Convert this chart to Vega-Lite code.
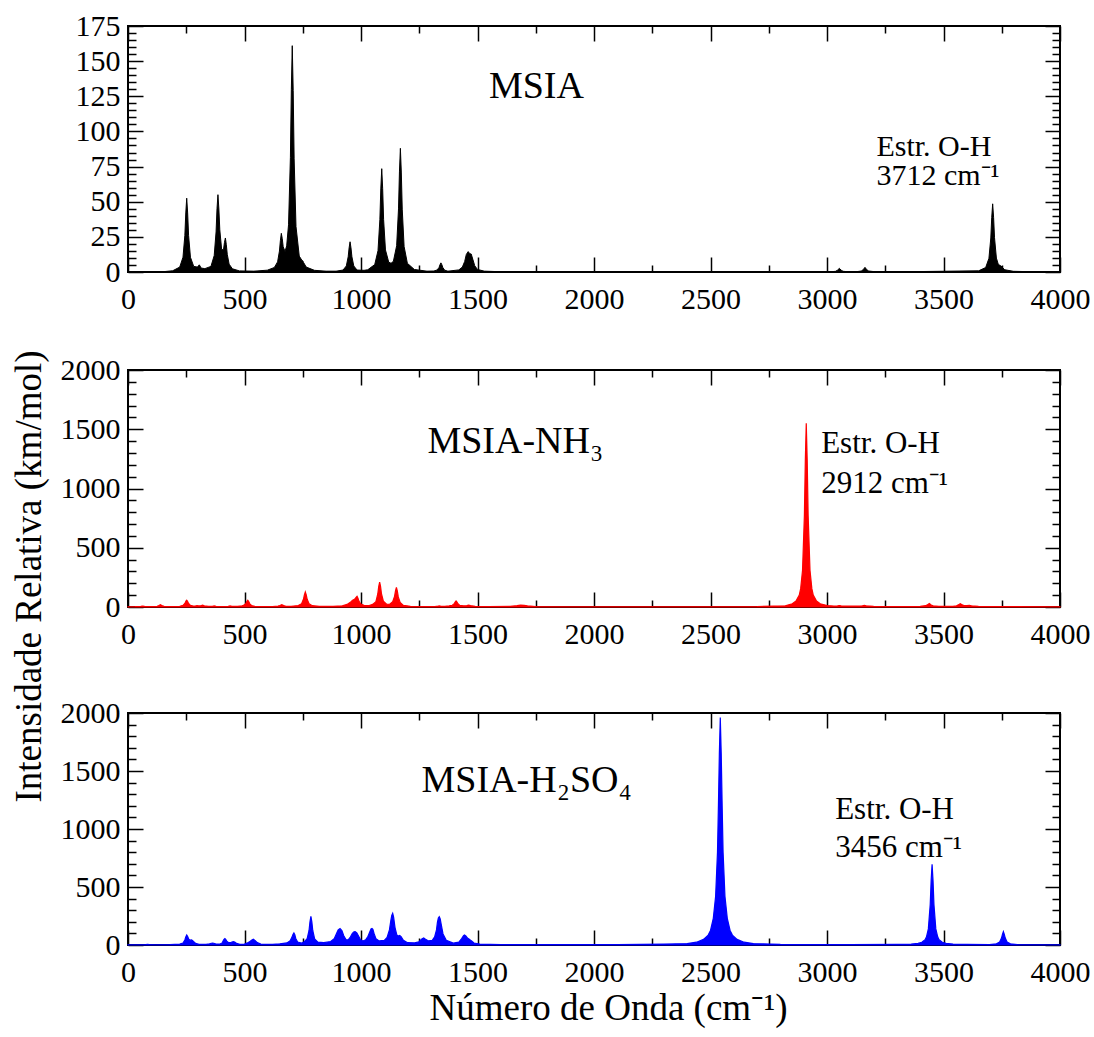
{
  "$schema": "https://vega.github.io/schema/vega-lite/v6.json",
  "background": "white",
  "padding": {"left": 9, "top": 10, "right": 5, "bottom": 5},
  "bounds": "flush",
  "spacing": 98,
  "config": {
    "font": "Liberation Serif",
    "view": {"stroke": "black", "strokeWidth": 2},
    "text": {"font": "Liberation Serif", "color": "black"}
  },
  "datasets": {
    "msia": [
      {"x":0,"y":0},{"x":150,"y":0.2},{"x":192,"y":0.9},{"x":222,"y":3.5},{"x":236,"y":10.5},{"x":244,"y":26},{"x":248,"y":42},{"x":252,"y":52.5},{"x":256,"y":42},{"x":260,"y":26},{"x":268,"y":10.5},{"x":282,"y":4},{"x":298,"y":3.5},{"x":306,"y":5.1},{"x":314,"y":2.8},{"x":330,"y":2.4},{"x":356,"y":4},{"x":370,"y":11.7},{"x":378,"y":28.5},{"x":382,"y":45},{"x":386,"y":55},{"x":390,"y":44.8},{"x":394,"y":30},{"x":402,"y":15.8},{"x":410,"y":16},{"x":414,"y":21},{"x":418,"y":24.2},{"x":422,"y":19.4},{"x":426,"y":12.6},{"x":434,"y":5.6},{"x":448,"y":2.3},{"x":478,"y":0.8},{"x":540,"y":0.6},{"x":598,"y":1.3},{"x":628,"y":3.2},{"x":642,"y":7.2},{"x":650,"y":14.9},{"x":654,"y":22.3},{"x":658,"y":27.5},{"x":662,"y":23.8},{"x":666,"y":18},{"x":674,"y":14.6},{"x":681,"y":18.6},{"x":689,"y":33.6},{"x":697,"y":81.5},{"x":701,"y":129.7},{"x":705,"y":161},{"x":709,"y":129},{"x":713,"y":80.5},{"x":721,"y":32.4},{"x":735,"y":11.3},{"x":746,"y":8.4},{"x":750,"y":8},{"x":754,"y":6.6},{"x":765,"y":3.5},{"x":800,"y":1.2},{"x":850,"y":0.6},{"x":893,"y":0.6},{"x":923,"y":1.4},{"x":937,"y":4.3},{"x":945,"y":10.8},{"x":949,"y":17.2},{"x":953,"y":21.5},{"x":957,"y":17.2},{"x":961,"y":10.8},{"x":969,"y":4.3},{"x":983,"y":1.4},{"x":1013,"y":1.2},{"x":1029,"y":1.6},{"x":1059,"y":5.3},{"x":1073,"y":15.2},{"x":1081,"y":37.2},{"x":1085,"y":59.1},{"x":1089,"y":73.5},{"x":1093,"y":59.3},{"x":1097,"y":37.4},{"x":1105,"y":15.7},{"x":1119,"y":7},{"x":1129,"y":6.2},{"x":1139,"y":7.6},{"x":1153,"y":18.7},{"x":1161,"y":44.9},{"x":1165,"y":71.2},{"x":1169,"y":88},{"x":1173,"y":71.1},{"x":1177,"y":44.7},{"x":1185,"y":18.1},{"x":1199,"y":6.2},{"x":1229,"y":1.8},{"x":1283,"y":0.6},{"x":1313,"y":0.7},{"x":1327,"y":1.5},{"x":1335,"y":3.25},{"x":1339,"y":5.2},{"x":1343,"y":6.5},{"x":1347,"y":5.2},{"x":1351,"y":3.25},{"x":1359,"y":1.3},{"x":1373,"y":0.6},{"x":1420,"y":1.5},{"x":1435,"y":3.5},{"x":1445,"y":7.5},{"x":1452,"y":12.5},{"x":1460,"y":14.5},{"x":1467,"y":13},{"x":1473,"y":12.8},{"x":1480,"y":9},{"x":1488,"y":4.5},{"x":1500,"y":1.8},{"x":1530,"y":0.6},{"x":1600,"y":0.2},{"x":1800,"y":0},{"x":2950,"y":0},{"x":3020,"y":0.2},{"x":3037,"y":0.5},{"x":3045,"y":1.3},{"x":3053,"y":2.6},{"x":3061,"y":1.3},{"x":3069,"y":0.5},{"x":3090,"y":0.2},{"x":3130,"y":0.3},{"x":3147,"y":0.7},{"x":3155,"y":1.6},{"x":3163,"y":3.3},{"x":3171,"y":1.6},{"x":3179,"y":0.7},{"x":3200,"y":0.3},{"x":3300,"y":0.1},{"x":3651,"y":0.85},{"x":3681,"y":3.2},{"x":3695,"y":9.7},{"x":3703,"y":24.2},{"x":3707,"y":38.8},{"x":3711,"y":48.5},{"x":3715,"y":38.8},{"x":3719,"y":24.4},{"x":3727,"y":9.9},{"x":3735,"y":5.5},{"x":3743,"y":4.6},{"x":3747,"y":4.3},{"x":3751,"y":3.5},{"x":3763,"y":1.6},{"x":3800,"y":0.5},{"x":3900,"y":0.1},{"x":4000,"y":0}
    ],
    "nh3": [
      {"x":0,"y":2},{"x":30,"y":3},{"x":55,"y":5},{"x":63,"y":8},{"x":71,"y":5},{"x":90,"y":3},{"x":125,"y":6},{"x":133,"y":12},{"x":139,"y":20},{"x":145,"y":12},{"x":155,"y":6},{"x":190,"y":4},{"x":222,"y":6},{"x":236,"y":14},{"x":244,"y":30},{"x":248,"y":45},{"x":252,"y":56},{"x":256,"y":45},{"x":260,"y":30},{"x":268,"y":14},{"x":280,"y":8},{"x":288,"y":8},{"x":296,"y":11},{"x":304,"y":9},{"x":312,"y":10},{"x":320,"y":15},{"x":328,"y":9},{"x":345,"y":5},{"x":362,"y":6},{"x":370,"y":9},{"x":378,"y":6},{"x":400,"y":4},{"x":430,"y":6},{"x":438,"y":9},{"x":446,"y":6},{"x":470,"y":6},{"x":490,"y":10},{"x":498,"y":16},{"x":506,"y":30},{"x":510,"y":46},{"x":514,"y":56},{"x":518,"y":45},{"x":522,"y":29},{"x":530,"y":13},{"x":544,"y":6},{"x":575,"y":4},{"x":620,"y":4},{"x":644,"y":8},{"x":652,"y":13},{"x":660,"y":20},{"x":668,"y":12},{"x":676,"y":7},{"x":700,"y":6},{"x":731,"y":12},{"x":745,"y":28},{"x":753,"y":65},{"x":757,"y":103},{"x":761,"y":127},{"x":765,"y":103},{"x":769,"y":65},{"x":777,"y":28},{"x":791,"y":11},{"x":821,"y":6},{"x":880,"y":5},{"x":920,"y":10},{"x":940,"y":22},{"x":956,"y":42},{"x":964,"y":58},{"x":972,"y":65},{"x":979,"y":82},{"x":983,"y":90},{"x":987,"y":75},{"x":991,"y":50},{"x":999,"y":25},{"x":1013,"y":14},{"x":1035,"y":12},{"x":1050,"y":22},{"x":1064,"y":45},{"x":1072,"y":110},{"x":1076,"y":172},{"x":1080,"y":211},{"x":1084,"y":172},{"x":1088,"y":110},{"x":1096,"y":50},{"x":1110,"y":24},{"x":1122,"y":22},{"x":1136,"y":45},{"x":1144,"y":90},{"x":1148,"y":136},{"x":1152,"y":166},{"x":1156,"y":135},{"x":1160,"y":85},{"x":1168,"y":38},{"x":1182,"y":14},{"x":1212,"y":6},{"x":1260,"y":4},{"x":1320,"y":5},{"x":1328,"y":6},{"x":1336,"y":9},{"x":1344,"y":6},{"x":1360,"y":6},{"x":1378,"y":9},{"x":1392,"y":15},{"x":1400,"y":28},{"x":1404,"y":42},{"x":1408,"y":51},{"x":1412,"y":42},{"x":1416,"y":28},{"x":1424,"y":14},{"x":1440,"y":10},{"x":1454,"y":11},{"x":1462,"y":15},{"x":1470,"y":11},{"x":1490,"y":6},{"x":1550,"y":4},{"x":1640,"y":6},{"x":1670,"y":11},{"x":1685,"y":15},{"x":1700,"y":14},{"x":1715,"y":9},{"x":1750,"y":4},{"x":1900,"y":2},{"x":2300,"y":2},{"x":2700,"y":4},{"x":2821,"y":10},{"x":2851,"y":27},{"x":2867,"y":50},{"x":2881,"y":100},{"x":2887,"y":155},{"x":2895,"y":310},{"x":2903,"y":775},{"x":2907,"y":1240},{"x":2911,"y":1550},{"x":2915,"y":1240},{"x":2919,"y":775},{"x":2927,"y":310},{"x":2935,"y":155},{"x":2941,"y":100},{"x":2955,"y":50},{"x":2971,"y":27},{"x":3001,"y":12},{"x":3030,"y":8},{"x":3045,"y":9},{"x":3053,"y":12},{"x":3061,"y":9},{"x":3090,"y":7},{"x":3140,"y":8},{"x":3152,"y":10},{"x":3160,"y":14},{"x":3168,"y":10},{"x":3200,"y":6},{"x":3300,"y":4},{"x":3400,"y":6},{"x":3423,"y":11},{"x":3431,"y":18},{"x":3435,"y":24},{"x":3439,"y":30},{"x":3443,"y":24},{"x":3447,"y":17},{"x":3455,"y":10},{"x":3480,"y":5},{"x":3540,"y":5},{"x":3556,"y":10},{"x":3564,"y":18},{"x":3568,"y":24},{"x":3572,"y":28},{"x":3576,"y":24},{"x":3580,"y":18},{"x":3588,"y":12},{"x":3600,"y":11},{"x":3611,"y":14},{"x":3620,"y":10},{"x":3650,"y":5},{"x":3750,"y":3},{"x":4000,"y":2}
    ],
    "h2so4": [
      {"x":0,"y":1},{"x":60,"y":2},{"x":76,"y":4},{"x":84,"y":6},{"x":92,"y":4},{"x":120,"y":2},{"x":180,"y":4},{"x":222,"y":8},{"x":236,"y":17},{"x":244,"y":43},{"x":248,"y":70},{"x":252,"y":86},{"x":256,"y":72},{"x":261,"y":50},{"x":266,"y":42},{"x":273,"y":44},{"x":280,"y":33},{"x":290,"y":14},{"x":305,"y":6},{"x":335,"y":5},{"x":350,"y":10},{"x":358,"y":15},{"x":363,"y":17},{"x":368,"y":15},{"x":378,"y":8},{"x":395,"y":8},{"x":404,"y":18},{"x":408,"y":34},{"x":412,"y":48},{"x":416,"y":55},{"x":420,"y":47},{"x":424,"y":33},{"x":432,"y":20},{"x":440,"y":20},{"x":446,"y":26},{"x":452,"y":29},{"x":458,"y":26},{"x":466,"y":14},{"x":480,"y":6},{"x":500,"y":8},{"x":513,"y":18},{"x":521,"y":27},{"x":530,"y":40},{"x":538,"y":49},{"x":546,"y":38},{"x":555,"y":20},{"x":570,"y":8},{"x":620,"y":5},{"x":652,"y":10},{"x":682,"y":18},{"x":696,"y":36},{"x":704,"y":68},{"x":708,"y":90},{"x":712,"y":103},{"x":716,"y":88},{"x":720,"y":56},{"x":728,"y":26},{"x":745,"y":16},{"x":755,"y":25},{"x":769,"y":55},{"x":777,"y":125},{"x":781,"y":200},{"x":785,"y":247},{"x":789,"y":200},{"x":793,"y":125},{"x":801,"y":52},{"x":815,"y":25},{"x":840,"y":20},{"x":870,"y":30},{"x":885,"y":55},{"x":895,"y":100},{"x":902,"y":130},{"x":910,"y":141},{"x":918,"y":125},{"x":926,"y":80},{"x":936,"y":45},{"x":945,"y":45},{"x":955,"y":70},{"x":963,"y":100},{"x":970,"y":113},{"x":975,"y":115},{"x":982,"y":105},{"x":990,"y":75},{"x":998,"y":45},{"x":1008,"y":35},{"x":1020,"y":45},{"x":1030,"y":75},{"x":1038,"y":115},{"x":1043,"y":138},{"x":1047,"y":143},{"x":1051,"y":135},{"x":1056,"y":100},{"x":1064,"y":55},{"x":1078,"y":35},{"x":1100,"y":40},{"x":1112,"y":65},{"x":1122,"y":130},{"x":1128,"y":210},{"x":1132,"y":255},{"x":1136,"y":273},{"x":1140,"y":240},{"x":1146,"y":150},{"x":1154,"y":85},{"x":1160,"y":78},{"x":1166,"y":82},{"x":1172,"y":72},{"x":1182,"y":40},{"x":1200,"y":20},{"x":1230,"y":18},{"x":1249,"y":28},{"x":1261,"y":52},{"x":1269,"y":60},{"x":1277,"y":50},{"x":1290,"y":35},{"x":1306,"y":40},{"x":1316,"y":70},{"x":1324,"y":130},{"x":1328,"y":195},{"x":1332,"y":232},{"x":1336,"y":244},{"x":1340,"y":225},{"x":1344,"y":180},{"x":1352,"y":95},{"x":1366,"y":40},{"x":1396,"y":16},{"x":1420,"y":25},{"x":1432,"y":55},{"x":1440,"y":80},{"x":1444,"y":86},{"x":1450,"y":78},{"x":1458,"y":58},{"x":1465,"y":50},{"x":1472,"y":38},{"x":1485,"y":17},{"x":1510,"y":8},{"x":1600,"y":4},{"x":1800,"y":3},{"x":2100,"y":4},{"x":2300,"y":7},{"x":2400,"y":12},{"x":2440,"y":24},{"x":2470,"y":48},{"x":2490,"y":85},{"x":2500,"y":125},{"x":2512,"y":230},{"x":2522,"y":420},{"x":2530,"y":800},{"x":2534,"y":1200},{"x":2538,"y":1650},{"x":2542,"y":1960},{"x":2546,"y":1650},{"x":2550,"y":1200},{"x":2554,"y":800},{"x":2562,"y":420},{"x":2572,"y":230},{"x":2584,"y":125},{"x":2594,"y":85},{"x":2614,"y":48},{"x":2644,"y":24},{"x":2684,"y":12},{"x":2800,"y":5},{"x":3100,"y":4},{"x":3300,"y":6},{"x":3361,"y":8},{"x":3391,"y":14},{"x":3407,"y":24},{"x":3421,"y":46},{"x":3427,"y":70},{"x":3435,"y":139},{"x":3443,"y":348},{"x":3447,"y":557},{"x":3451,"y":696},{"x":3455,"y":557},{"x":3459,"y":348},{"x":3467,"y":139},{"x":3475,"y":70},{"x":3481,"y":46},{"x":3495,"y":24},{"x":3511,"y":14},{"x":3541,"y":8},{"x":3600,"y":5},{"x":3697,"y":4},{"x":3727,"y":10},{"x":3741,"y":25},{"x":3749,"y":60},{"x":3753,"y":92},{"x":3757,"y":115},{"x":3761,"y":92},{"x":3765,"y":60},{"x":3773,"y":25},{"x":3787,"y":10},{"x":3817,"y":4},{"x":3900,"y":2},{"x":4000,"y":1}
    ]
  },
  "vconcat": [
    {
      "width": 932, "height": 246,
      "resolve": {"axis": {"x": "independent", "y": "independent"}},
      "layer": [
        {
          "data": {"values": [{}]},
          "mark": {"type": "rule", "color": "black", "strokeWidth": 2},
          "encoding": {
            "x": {"datum": 0, "type": "quantitative", "axis": {"orient": "top", "title": null, "labels": false, "values": [250,750,1250,1750,2250,2750,3250,3750], "domain": false, "grid": false, "tickSize": 7, "offset": -7, "tickColor": "black", "tickWidth": 1.5}},
            "x2": {"datum": 4000},
            "y": {"datum": 0, "type": "quantitative", "axis": {"orient": "right", "title": null, "labels": false, "values": [5,10,15,20,30,35,40,45,55,60,65,70,80,85,90,95,105,110,115,120,130,135,140,145,155,160,165,170], "domain": false, "grid": false, "tickSize": 8, "offset": -8, "tickColor": "black", "tickWidth": 1.5}}
          }
        },
        {
          "data": {"name": "msia"},
          "mark": {"type": "area", "fill": "black", "fillOpacity": 1, "stroke": "black", "strokeWidth": 1},
          "encoding": {
            "x": {"field": "x", "type": "quantitative", "scale": {"domain": [0, 4000], "nice": false, "zero": false},
              "axis": {"orient": "bottom", "title": null, "values": [0,500,1000,1500,2000,2500,3000,3500,4000], "format": "d", "domain": false, "grid": false, "tickSize": 15, "offset": -15, "tickColor": "black", "tickWidth": 1.5, "labelPadding": 12, "labelFont": "Liberation Serif", "labelFontSize": 30, "labelColor": "black", "labelFlush": false, "labelOverlap": false}},
            "y": {"field": "y", "type": "quantitative", "scale": {"domain": [0, 175], "nice": false},
              "axis": {"orient": "left", "title": null, "values": [0,25,50,75,100,125,150,175], "format": "d", "domain": false, "grid": false, "tickSize": 15, "offset": -15, "tickColor": "black", "tickWidth": 1.5, "labelPadding": 8, "labelFont": "Liberation Serif", "labelFontSize": 30, "labelColor": "black", "labelFlush": false, "labelOverlap": false}}
          }
        },
        {
          "data": {"values": [{}]},
          "mark": {"type": "text", "font": "Liberation Serif", "fontSize": 38, "align": "left", "baseline": "alphabetic", "color": "black"},
          "encoding": {
            "x": {"datum": 1549, "type": "quantitative", "axis": {"orient": "top", "title": null, "labels": false, "values": [0,500,1000,1500,2000,2500,3000,3500,4000], "domain": false, "grid": false, "tickSize": 15, "offset": -15, "tickColor": "black", "tickWidth": 1.5}},
            "y": {"datum": 123.8, "type": "quantitative", "axis": {"orient": "right", "title": null, "labels": false, "values": [0,25,50,75,100,125,150,175], "domain": false, "grid": false, "tickSize": 15, "offset": -15, "tickColor": "black", "tickWidth": 1.5}},
            "text": {"value": "MSIA"}
          }
        },
        {
          "data": {"values": [{}]},
          "mark": {"type": "text", "font": "Liberation Serif", "fontSize": 30, "align": "left", "baseline": "alphabetic", "lineHeight": 29, "color": "black"},
          "encoding": {
            "x": {"datum": 3212, "type": "quantitative", "axis": {"orient": "bottom", "title": null, "labels": false, "values": [250,750,1250,1750,2250,2750,3250,3750], "domain": false, "grid": false, "tickSize": 7, "offset": -7, "tickColor": "black", "tickWidth": 1.5}},
            "y": {"datum": 82.5, "type": "quantitative", "axis": {"orient": "left", "title": null, "labels": false, "values": [5,10,15,20,30,35,40,45,55,60,65,70,80,85,90,95,105,110,115,120,130,135,140,145,155,160,165,170], "domain": false, "grid": false, "tickSize": 8, "offset": -8, "tickColor": "black", "tickWidth": 1.5}},
            "text": {"value": ["Estr. O-H", "3712 cm⁻¹"]}
          }
        }
      ]
    },
    {
      "bounds": "flush",
      "spacing": 106,
      "vconcat": [
        {
          "width": 932, "height": 237,
          "resolve": {"axis": {"x": "independent", "y": "independent"}},
          "layer": [
            {
              "data": {"name": "nh3"},
              "mark": {"type": "area", "fill": "#ff0000", "fillOpacity": 1, "stroke": "#ff0000", "strokeWidth": 1.2},
              "encoding": {
                "x": {"field": "x", "type": "quantitative", "scale": {"domain": [0, 4000], "nice": false, "zero": false},
                  "axis": {"orient": "bottom", "title": null, "values": [0,500,1000,1500,2000,2500,3000,3500,4000], "format": "d", "domain": false, "grid": false, "tickSize": 15, "offset": -15, "tickColor": "black", "tickWidth": 1.5, "labelPadding": 12, "labelFont": "Liberation Serif", "labelFontSize": 30, "labelColor": "black", "labelFlush": false, "labelOverlap": false}},
                "y": {"field": "y", "type": "quantitative", "scale": {"domain": [0, 2000], "nice": false},
                  "axis": {"orient": "left", "title": "Intensidade Relativa (km/mol)", "titlePadding": 12, "titleY": 206, "titleFont": "Liberation Serif", "titleFontSize": 37, "titleFontWeight": "normal", "titleColor": "black", "values": [0,500,1000,1500,2000], "format": "d", "domain": false, "grid": false, "tickSize": 15, "offset": -15, "tickColor": "black", "tickWidth": 1.5, "labelPadding": 8, "labelFont": "Liberation Serif", "labelFontSize": 30, "labelColor": "black", "labelFlush": false, "labelOverlap": false}}
              }
            },
            {
              "data": {"values": [{}]},
              "mark": {"type": "text", "font": "Liberation Serif", "fontSize": 38, "align": "left", "baseline": "alphabetic", "color": "black"},
              "encoding": {
                "x": {"datum": 1285, "type": "quantitative", "axis": {"orient": "top", "title": null, "labels": false, "values": [0,500,1000,1500,2000,2500,3000,3500,4000], "domain": false, "grid": false, "tickSize": 15, "offset": -15, "tickColor": "black", "tickWidth": 1.5}},
                "y": {"datum": 1300, "type": "quantitative", "axis": {"orient": "right", "title": null, "labels": false, "values": [0,500,1000,1500,2000], "domain": false, "grid": false, "tickSize": 15, "offset": -15, "tickColor": "black", "tickWidth": 1.5}},
                "text": {"value": "MSIA-NH₃"}
              }
            },
            {
              "data": {"values": [{}]},
              "mark": {"type": "text", "font": "Liberation Serif", "fontSize": 31, "align": "left", "baseline": "alphabetic", "color": "black"},
              "encoding": {
                "x": {"datum": 2975, "type": "quantitative", "axis": {"orient": "bottom", "title": null, "labels": false, "values": [250,750,1250,1750,2250,2750,3250,3750], "domain": false, "grid": false, "tickSize": 7, "offset": -7, "tickColor": "black", "tickWidth": 1.5}},
                "y": {"datum": 1300, "type": "quantitative", "axis": {"orient": "left", "title": null, "labels": false, "values": [100,200,300,400,600,700,800,900,1100,1200,1300,1400,1600,1700,1800,1900], "domain": false, "grid": false, "tickSize": 8, "offset": -8, "tickColor": "black", "tickWidth": 1.5}},
                "text": {"value": "Estr. O-H"}
              }
            },
            {
              "data": {"values": [{}]},
              "mark": {"type": "text", "font": "Liberation Serif", "fontSize": 31, "align": "left", "baseline": "alphabetic", "color": "black"},
              "encoding": {
                "x": {"datum": 2975, "type": "quantitative", "axis": {"orient": "top", "title": null, "labels": false, "values": [250,750,1250,1750,2250,2750,3250,3750], "domain": false, "grid": false, "tickSize": 7, "offset": -7, "tickColor": "black", "tickWidth": 1.5}},
                "y": {"datum": 962, "type": "quantitative", "axis": {"orient": "right", "title": null, "labels": false, "values": [100,200,300,400,600,700,800,900,1100,1200,1300,1400,1600,1700,1800,1900], "domain": false, "grid": false, "tickSize": 8, "offset": -8, "tickColor": "black", "tickWidth": 1.5}},
                "text": {"value": "2912 cm⁻¹"}
              }
            }
          ]
        },
        {
          "width": 932, "height": 232,
          "resolve": {"axis": {"x": "independent", "y": "independent"}},
          "layer": [
            {
              "data": {"name": "h2so4"},
              "mark": {"type": "area", "fill": "#0000ff", "fillOpacity": 1, "stroke": "#0000ff", "strokeWidth": 1.2},
              "encoding": {
                "x": {"field": "x", "type": "quantitative", "scale": {"domain": [0, 4000], "nice": false, "zero": false},
                  "axis": {"orient": "bottom", "title": "Número de Onda (cm⁻¹)", "titlePadding": 3, "titleX": 480, "titleFont": "Liberation Serif", "titleFontSize": 37, "titleFontWeight": "normal", "titleColor": "black", "values": [0,500,1000,1500,2000,2500,3000,3500,4000], "format": "d", "domain": false, "grid": false, "tickSize": 15, "offset": -15, "tickColor": "black", "tickWidth": 1.5, "labelPadding": 12, "labelFont": "Liberation Serif", "labelFontSize": 30, "labelColor": "black", "labelFlush": false, "labelOverlap": false}},
                "y": {"field": "y", "type": "quantitative", "scale": {"domain": [0, 2000], "nice": false},
                  "axis": {"orient": "left", "title": null, "values": [0,500,1000,1500,2000], "format": "d", "domain": false, "grid": false, "tickSize": 15, "offset": -15, "tickColor": "black", "tickWidth": 1.5, "labelPadding": 8, "labelFont": "Liberation Serif", "labelFontSize": 30, "labelColor": "black", "labelFlush": false, "labelOverlap": false}}
              }
            },
            {
              "data": {"values": [{}]},
              "mark": {"type": "text", "font": "Liberation Serif", "fontSize": 38, "align": "left", "baseline": "alphabetic", "color": "black"},
              "encoding": {
                "x": {"datum": 1260, "type": "quantitative", "axis": {"orient": "top", "title": null, "labels": false, "values": [0,500,1000,1500,2000,2500,3000,3500,4000], "domain": false, "grid": false, "tickSize": 15, "offset": -15, "tickColor": "black", "tickWidth": 1.5}},
                "y": {"datum": 1319, "type": "quantitative", "axis": {"orient": "right", "title": null, "labels": false, "values": [0,500,1000,1500,2000], "domain": false, "grid": false, "tickSize": 15, "offset": -15, "tickColor": "black", "tickWidth": 1.5}},
                "text": {"value": "MSIA-H₂SO₄"}
              }
            },
            {
              "data": {"values": [{}]},
              "mark": {"type": "text", "font": "Liberation Serif", "fontSize": 31, "align": "left", "baseline": "alphabetic", "color": "black"},
              "encoding": {
                "x": {"datum": 3035, "type": "quantitative", "axis": {"orient": "bottom", "title": null, "labels": false, "values": [250,750,1250,1750,2250,2750,3250,3750], "domain": false, "grid": false, "tickSize": 7, "offset": -7, "tickColor": "black", "tickWidth": 1.5}},
                "y": {"datum": 1086, "type": "quantitative", "axis": {"orient": "left", "title": null, "labels": false, "values": [100,200,300,400,600,700,800,900,1100,1200,1300,1400,1600,1700,1800,1900], "domain": false, "grid": false, "tickSize": 8, "offset": -8, "tickColor": "black", "tickWidth": 1.5}},
                "text": {"value": "Estr. O-H"}
              }
            },
            {
              "data": {"values": [{}]},
              "mark": {"type": "text", "font": "Liberation Serif", "fontSize": 31, "align": "left", "baseline": "alphabetic", "color": "black"},
              "encoding": {
                "x": {"datum": 3035, "type": "quantitative", "axis": {"orient": "top", "title": null, "labels": false, "values": [250,750,1250,1750,2250,2750,3250,3750], "domain": false, "grid": false, "tickSize": 7, "offset": -7, "tickColor": "black", "tickWidth": 1.5}},
                "y": {"datum": 759, "type": "quantitative", "axis": {"orient": "right", "title": null, "labels": false, "values": [100,200,300,400,600,700,800,900,1100,1200,1300,1400,1600,1700,1800,1900], "domain": false, "grid": false, "tickSize": 8, "offset": -8, "tickColor": "black", "tickWidth": 1.5}},
                "text": {"value": "3456 cm⁻¹"}
              }
            }
          ]
        }
      ]
    }
  ]
}
